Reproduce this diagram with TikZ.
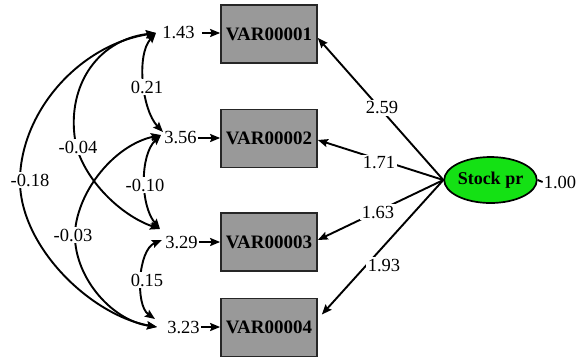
\documentclass[tikz,border=0pt]{standalone}
\usepackage{fontspec}
\setmainfont{Liberation Serif}
\usetikzlibrary{arrows.meta,shapes.geometric,calc}
\definecolor{boxgray}{RGB}{153,153,153}
\definecolor{factorgreen}{RGB}{20,225,20}
\begin{document}
\begin{tikzpicture}[x=1pt,y=-1pt,
  tiphead/.tip={Stealth[length=10pt,width=8pt,inset=1.5pt]},
  obs/.style={draw=black!85, line width=1.7pt, fill=boxgray,
    minimum width=96pt, minimum height=58pt, inner sep=0pt,
    font=\fontsize{19}{21}\selectfont\bfseries},
  factor/.style={ellipse, draw=black, line width=1.7pt, fill=factorgreen,
    minimum width=79pt, minimum height=46pt, inner sep=0pt,
    font=\fontsize{18}{20}\selectfont\bfseries},
  num/.style={font=\fontsize{18.5}{20}\selectfont, inner sep=1pt},
  lab/.style={num, fill=white, inner sep=1.5pt},
  pathline/.style={line width=1.9pt, -tiphead},
  covline/.style={line width=1.9pt, tiphead-tiphead}]
\useasboundingbox (0,0) rectangle (584,360);

% observed variables
\node[obs] (v1) at (269,34)    {VAR00001};
\node[obs] (v2) at (269,138.5) {VAR00002};
\node[obs] (v3) at (269,242)   {VAR00003};
\node[obs] (v4) at (269,327.5) {VAR00004};

% error variances
\node[num] (n1) at (178.5,33) {1.43};
\node[num] (n2) at (180.5,138) {3.56};
\node[num] (n3) at (181.5,242) {3.29};
\node[num] (n4) at (183.5,327) {3.23};

\draw[pathline, shorten <=6pt] (n1.east) -- (n1.east -| v1.west);
\draw[pathline] (n2.east) -- (n2.east -| v2.west);
\draw[pathline] (n3.east) -- (n3.east -| v3.west);
\draw[pathline] (n4.east) -- (n4.east -| v4.west);

% latent factor
\node[factor] (sp) at (490.5,180) {Stock pr};
\node[num] (fv) at (560,182) {1.00};
\draw[line width=1.9pt] (sp.east) -- (fv.west);

% covariance end points beside the error terms
\coordinate (e1)    at (156,33);
\coordinate (e2in)  at (163,132);
\coordinate (e2out) at (161,135);
\coordinate (e3a)   at (160,229);
\coordinate (e3b)   at (162,240);
\coordinate (e4a)   at (155,319);
\coordinate (e4b)   at (157,327);

% covariances
\draw[covline] (e1) .. controls (136,55) and (142,110) .. (e2in);
\draw[covline] (e2out) .. controls (140,155) and (140,205) .. (e3a);
\draw[covline] (e3b) .. controls (138,250) and (135,305) .. (e4a);
\draw[covline] (e1) .. controls (95,40) and (65,90) .. (76,145)
               .. controls (85,180) and (120,215) .. (e3a);
\draw[covline] (e1) .. controls (80,45) and (22,110) .. (20,178)
               .. controls (18,245) and (90,315) .. (e4b);
\draw[covline] (e2out) .. controls (115,145) and (78,190) .. (75,232)
               .. controls (73,275) and (110,320) .. (e4b);

\node[lab] (c12) at (147,87)  {0.21};
\node[lab] (c13) at (78,147)  {-0.04};
\node[lab] (c14) at (30,180)  {-0.18};
\node[lab] (c23) at (145,185) {-0.10};
\node[lab] (c24) at (73,235)  {-0.03};
\node[lab] (c34) at (147,280) {0.15};

% factor loadings
\draw[pathline] (sp.west) -- ([yshift=-4pt]v1.east);
\draw[pathline] (sp.west) -- ([yshift=-1.5pt]v2.east);
\draw[pathline] (sp.west) -- ([yshift=2pt]v3.east);
\draw[pathline] (sp.west) -- ($(v4.east)+(4,-13)$);

\node[lab] (l1) at (382,108) {2.59};
\node[lab] (l2) at (379,163) {1.71};
\node[lab] (l3) at (378,212) {1.63};
\node[lab] (l4) at (384,265) {1.93};
\end{tikzpicture}
\end{document}
